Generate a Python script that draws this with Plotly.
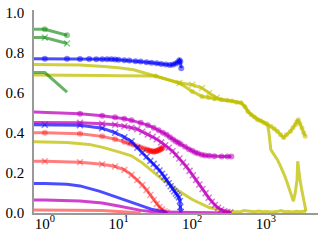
import plotly.graph_objects as go

# ---------------- data ----------------
tick_x_vals = [1, 10, 100, 1000]
tick_x_text = ["10<sup>0</sup>", "10<sup>1</sup>", "10<sup>2</sup>", "10<sup>3</sup>"]
tick_y_vals = [0.0, 0.2, 0.4, 0.6, 0.8, 1.0]
tick_y_text = ["0.0", "0.2", "0.4", "0.6", "0.8", "1.0"]

# green
g1_x = [0.5, 1, 2]
g1_y = [0.916, 0.916, 0.886]
g2_x = [0.5, 1, 2]
g2_y = [0.875, 0.875, 0.845]
g3_x = [0.5, 1, 2]
g3_y = [0.700, 0.700, 0.603]

# blue
b1_x = [0.5, 1, 2, 3, 4, 5, 6, 7, 8, 9, 10, 12, 14, 17, 20, 24, 28, 33, 38, 44, 50,
        55, 60, 64, 67, 69, 71]
b1_y = [0.769, 0.769, 0.769, 0.768, 0.768, 0.767, 0.767, 0.766, 0.766, 0.765, 0.764,
        0.762, 0.760, 0.757, 0.755, 0.752, 0.749, 0.746, 0.743, 0.740, 0.738,
        0.740, 0.745, 0.752, 0.762, 0.755, 0.722]
b2_x = [0.5, 1, 3, 6, 9, 12, 15, 18, 21, 24, 27, 30, 33, 36, 39, 42, 45, 48, 51, 54,
        57, 60, 63, 66, 68, 69, 70]
b2_y = [0.440, 0.440, 0.438, 0.423, 0.400, 0.378, 0.357, 0.325, 0.300, 0.280, 0.260,
        0.245, 0.228, 0.212, 0.196, 0.180, 0.165, 0.148, 0.133, 0.120, 0.108, 0.097,
        0.088, 0.078, 0.060, 0.030, 0.005]
b3_x = [0.5, 1, 2, 3, 5.6, 10, 15, 22, 29, 40, 46]
b3_y = [0.147, 0.147, 0.143, 0.135, 0.108, 0.075, 0.052, 0.030, 0.017, 0.008, 0.0]

# red
r1_x = [0.5, 1, 3, 6, 9, 12, 14, 16, 18, 20, 22, 24, 25, 26, 27, 28, 29, 30, 31, 32,
        33, 34, 35, 36, 37, 38, 39, 40]
r1_y = [0.400, 0.400, 0.395, 0.382, 0.368, 0.355, 0.347, 0.340, 0.333, 0.327, 0.321,
        0.316, 0.313, 0.311, 0.309, 0.308, 0.307, 0.307, 0.307, 0.308, 0.309, 0.311,
        0.313, 0.315, 0.318, 0.320, 0.323, 0.326]
r2_x = [0.5, 1, 3, 6, 9, 12, 15, 18, 21, 24, 27, 30, 33, 36, 39, 42, 45]
r2_y = [0.258, 0.258, 0.253, 0.243, 0.232, 0.215, 0.190, 0.165, 0.140, 0.115, 0.090,
        0.065, 0.045, 0.030, 0.018, 0.008, 0.003]
r3_x = [0.5, 1, 3, 6, 10, 15, 20]
r3_y = [0.015, 0.015, 0.014, 0.012, 0.008, 0.004, 0.0]

# magenta
m1_x = [0.5, 3, 6, 9, 12, 15, 20, 25, 30, 35, 40, 45, 50, 55, 60, 65, 70, 80, 90, 100,
        110, 120, 135, 150, 170, 200, 250, 300, 340]
m1_y = [0.506, 0.495, 0.485, 0.477, 0.470, 0.462, 0.450, 0.438, 0.425, 0.413, 0.400,
        0.390, 0.378, 0.367, 0.357, 0.350, 0.343, 0.330, 0.318, 0.310, 0.302, 0.296,
        0.290, 0.287, 0.285, 0.283, 0.282, 0.282, 0.282]
m2_x = [0.5, 3, 6, 9, 12, 15, 18, 21, 25, 29, 33, 38, 43, 48, 54, 60, 67, 75, 83, 92,
        102, 113, 125, 138, 152, 167, 184, 203, 224, 247, 272, 300, 330]
m2_y = [0.452, 0.450, 0.445, 0.440, 0.432, 0.425, 0.418, 0.405, 0.392, 0.380, 0.368,
        0.352, 0.338, 0.325, 0.308, 0.290, 0.272, 0.252, 0.232, 0.210, 0.188, 0.165,
        0.142, 0.120, 0.098, 0.076, 0.056, 0.040, 0.026, 0.016, 0.009, 0.005, 0.003]
m3_x = [0.5, 1, 3, 6, 10, 15, 20, 30, 50, 100, 200, 340]
m3_y = [0.065, 0.065, 0.060, 0.050, 0.035, 0.022, 0.013, 0.006, 0.003, 0.002, 0.001, 0.001]

# yellow
y1_x = [0.5, 1, 3, 6.3, 10, 16, 32, 67, 100, 136, 170, 215, 251, 300, 350, 400, 464,
        520, 575, 640, 700, 780, 860, 940, 1050, 1100, 1166, 1300, 1432, 1550, 1660,
        1800, 1950, 2100, 2270, 2360, 2500, 2650, 2700, 2800, 2900, 3050, 3200, 3350, 3500]
y1_y = [0.741, 0.741, 0.738, 0.730, 0.724, 0.714, 0.683, 0.648, 0.639, 0.623, 0.598,
        0.575, 0.565, 0.562, 0.558, 0.552, 0.548, 0.530, 0.506, 0.490, 0.478, 0.468,
        0.458, 0.452, 0.440, 0.400, 0.316, 0.290, 0.266, 0.240, 0.216, 0.185, 0.150,
        0.115, 0.083, 0.059, 0.100, 0.167, 0.258, 0.200, 0.167, 0.120, 0.083, 0.045, 0.009]
y2_x = [0.5, 1, 3, 6, 10, 16, 32, 67, 100, 136, 167, 200, 250, 300, 350, 400, 460, 520,
        570, 630, 700, 770, 850, 940, 1030, 1170, 1300, 1430, 1580, 1740, 1900, 2150,
        2330, 2510, 2630, 2750, 2900, 3090, 3250, 3420]
y2_y = [0.689, 0.689, 0.688, 0.686, 0.684, 0.683, 0.683, 0.648, 0.606, 0.581, 0.576,
        0.570, 0.565, 0.562, 0.558, 0.552, 0.550, 0.530, 0.506, 0.490, 0.478, 0.465,
        0.460, 0.450, 0.445, 0.432, 0.420, 0.407, 0.390, 0.376, 0.390, 0.407, 0.425,
        0.440, 0.455, 0.465, 0.445, 0.424, 0.400, 0.382]
y3_x = [0.5, 1, 2, 4, 6.3, 10, 15, 21, 29, 40, 49, 67, 100, 136, 170, 215, 250, 300,
        340, 400, 450, 500, 600, 700, 800, 900, 1000, 1200, 1400, 1600, 1800, 2000,
        2300, 2600, 3000, 3300, 3500]
y3_y = [0.357, 0.356, 0.352, 0.342, 0.326, 0.305, 0.285, 0.250, 0.205, 0.165, 0.145,
        0.108, 0.067, 0.042, 0.027, 0.020, 0.012, 0.008, 0.007, 0.009, 0.006, 0.012,
        0.007, 0.006, 0.010, 0.006, 0.008, 0.005, 0.007, 0.012, 0.006, 0.008, 0.005,
        0.009, 0.006, 0.010, 0.005]

# ---------------- styling ----------------
GREEN = "rgba(0,128,0,0.6)"
BLUE = "rgba(0,0,255,0.7)"
RED = "rgba(255,0,0,0.5)"
MAG = "rgba(191,0,191,0.75)"
YEL = "rgba(191,191,0,0.75)"

fig = go.Figure()


def add(x, y, color, marker=None, width=3, msize=6, xmin=0.9, xmax=1e9):
    if marker is None:
        fig.add_trace(go.Scatter(x=x, y=y, mode="lines",
                                 line=dict(color=color, width=width),
                                 hoverinfo="skip"))
        return
    sizes = [msize if xmin <= xv <= xmax else 0 for xv in x]
    if marker == "x":
        mk = dict(symbol="x-thin", size=sizes, color=color,
                  line=dict(color=color, width=1.5))
    else:
        mk = dict(symbol="circle", size=sizes, color=color, line=dict(width=0))
    fig.add_trace(go.Scatter(x=x, y=y, mode="lines+markers",
                             line=dict(color=color, width=width),
                             marker=mk, hoverinfo="skip"))


# yellow
add(y3_x, y3_y, YEL)
add(y1_x, y1_y, YEL, marker="x", xmin=60, xmax=250)
add(y2_x, y2_y, YEL, marker="o", xmin=30, msize=5)
# red
add(r3_x, r3_y, RED)
add(r2_x, r2_y, RED, marker="x")
add(r1_x, r1_y, RED, marker="o")
# blue
add(b3_x, b3_y, BLUE)
add(b2_x, b2_y, BLUE, marker="x")
add(b1_x, b1_y, BLUE, marker="o")
# magenta
add(m3_x, m3_y, MAG)
add(m2_x, m2_y, MAG, marker="x")
add(m1_x, m1_y, MAG, marker="o")
# green
add(g3_x, g3_y, GREEN)
add(g2_x, g2_y, GREEN, marker="x")
add(g1_x, g1_y, GREEN, marker="o")

SERIF = "'Times New Roman', Times, 'Liberation Serif', serif"
fig.update_layout(
    width=323, height=244,
    margin=dict(l=29, r=5, t=10, b=31),
    paper_bgcolor="white", plot_bgcolor="white",
    showlegend=False,
    font=dict(family=SERIF, size=15, color="black"),
)
fig.update_xaxes(type="log", range=[-0.147, 3.707],
                 tickvals=tick_x_vals, ticktext=tick_x_text,
                 tickfont=dict(family=SERIF, size=15, color="black"),
                 showgrid=False, zeroline=False, ticks="",
                 ticklabelstandoff=-4,
                 showline=True, linecolor="#999999", linewidth=1.5)
fig.update_yaxes(range=[0, 1.012], tickvals=tick_y_vals, ticktext=tick_y_text,
                 tickfont=dict(family=SERIF, size=15, color="black"),
                 showgrid=False, zeroline=False, ticks="",
                 ticklabelstandoff=5,
                 showline=True, linecolor="#999999", linewidth=1.5)

fig.write_html("out.html", config={"displayModeBar": False},
               post_script="document.body.style.margin='0';document.body.style.padding='0';")
